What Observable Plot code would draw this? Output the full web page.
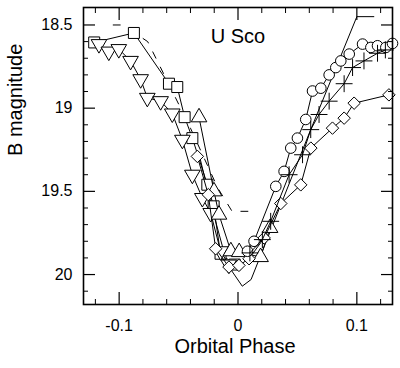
<!DOCTYPE html>
<html><head><meta charset="utf-8">
<script src="https://cdn.jsdelivr.net/npm/d3@7"></script>
<script src="https://cdn.jsdelivr.net/npm/@observablehq/plot@0.6"></script>
<style>body{margin:0;background:#fff}svg{display:block}</style>
</head><body><div id="chart"></div>
<script>
// ---- data (orbital phase, B magnitude) ----
const titleText = "U Sco";
const xLabel = "Orbital Phase";
const yLabel = "B magnitude";
const xMajor = [-0.1, 0, 0.1];
const xMajorLabels = ["-0.1", "0", "0.1"];
const xMinor = [-0.12, -0.08, -0.06, -0.04, -0.02, 0.02, 0.04, 0.06, 0.08, 0.12];
const yMajor = [18.5, 19, 19.5, 20];
const yMajorLabels = ["18.5", "19", "19.5", "20"];
const yMinor = [18.6, 18.7, 18.8, 18.9, 19.1, 19.2, 19.3, 19.4, 19.6, 19.7, 19.8, 19.9, 20.1];

const squarePhase = [-0.121, -0.0876, -0.0581, -0.0511, -0.0449, -0.0384, -0.0258, -0.0205, -0.0147, -0.0028];
const squareMag   = [18.605, 18.548, 18.853, 18.873, 19.054, 19.18, 19.46, 19.59, 19.875, 19.94];

const triDownPhase = [-0.117, -0.1087, -0.1003, -0.0904, -0.0819, -0.0763, -0.0651, -0.0553, -0.0468, -0.0384, -0.03, -0.023, -0.0146, -0.0078];
const triDownMag   = [18.615, 18.66, 18.645, 18.716, 18.826, 18.938, 18.958, 19.032, 19.19, 19.40, 19.54, 19.63, 19.86, 19.94];

const triUpPhase = [-0.0328, -0.0202, -0.016, -0.006, 0.001, 0.019, 0.027];
const triUpMag   = [19.055, 19.50, 19.64, 19.86, 19.865, 19.895, 19.72];

const diamondPhase = [-0.0342, -0.025, -0.0188, -0.0076, 0.0008, 0.0093, 0.022, 0.036, 0.0528, 0.0613, 0.0795, 0.0893, 0.0977, 0.127];
const diamondMag   = [19.29, 19.52, 19.845, 19.955, 19.945, 19.905, 19.78, 19.573, 19.461, 19.24, 19.12, 19.06, 18.97, 18.92];

const circlePhase = [0.008, 0.0135, 0.0318, 0.0388, 0.0444, 0.05, 0.057, 0.0627, 0.0697, 0.0767, 0.0823, 0.0865, 0.0936, 0.1048, 0.1118, 0.1174, 0.1244, 0.130];
const circleMag   = [19.86, 19.80, 19.47, 19.38, 19.24, 19.18, 19.068, 18.897, 18.88, 18.80, 18.756, 18.716, 18.675, 18.615, 18.635, 18.625, 18.635, 18.611];

const crossPhase = [0.01, 0.0205, 0.0275, 0.043, 0.0543, 0.0612, 0.0682, 0.0767, 0.0893, 0.0964, 0.106, 0.1174, 0.124];
const crossMag   = [19.87, 19.79, 19.68, 19.40, 19.28, 19.129, 19.038, 18.958, 18.853, 18.756, 18.716, 18.67, 18.65];

const modelPhase = [-0.032, -0.02, -0.0089, 0.0036, 0.011, 0.06, 0.1, 0.1143];
const modelMag   = [19.30, 19.65, 19.94, 20.07, 20.03, 19.15, 18.45, 18.45];

const dashPhase = [-0.105, -0.097, -0.076, -0.06, -0.04, -0.017, -0.005, 0.011];
const dashMag   = [18.50, 18.50, 18.60, 18.83, 19.12, 19.48, 19.62, 19.62];

// ---- build tables ----
const zip = (p, m) => p.map((x, i) => ({phase: x, mag: m[i]}));
const squares = zip(squarePhase, squareMag);
const triDown = zip(triDownPhase, triDownMag);
const triUp = zip(triUpPhase, triUpMag);
const diamonds = zip(diamondPhase, diamondMag);
const circles = zip(circlePhase, circleMag);
const crosses = zip(crossPhase, crossMag);
const model = zip(modelPhase, modelMag);
const dashed = zip(dashPhase, dashMag);

const sqrt3 = Math.sqrt(3);
const triangleDown = {
  draw(ctx, size) {
    const y = -Math.sqrt(size / (sqrt3 * 3));
    ctx.moveTo(0, -y * 2);
    ctx.lineTo(-sqrt3 * y, y);
    ctx.lineTo(sqrt3 * y, y);
    ctx.closePath();
  }
};

const series = (data, symbol, r) => [
  Plot.line(data, {x: "phase", y: "mag", stroke: "black", strokeWidth: 1}),
  Plot.dot(data, {x: "phase", y: "mag", symbol: () => symbol, r, fill: "white", stroke: "black", strokeWidth: 1})
];

const blank = () => "";
const tickOpts = {tickFormat: blank, label: null};

const chart = Plot.plot({
  width: 400,
  height: 368,
  marginLeft: 83,
  marginRight: 8,
  marginTop: 7,
  marginBottom: 64,
  style: {fontFamily: "'Liberation Sans', Arial, sans-serif", color: "black", background: "white"},
  x: {domain: [-0.13, 0.13]},
  y: {domain: [18.395, 20.18], reverse: true},
  symbol: {type: "identity"},
  marks: [
    Plot.line(dashed, {x: "phase", y: "mag", stroke: "black", strokeWidth: 1, strokeDasharray: "7,10"}),
    Plot.line(model, {x: "phase", y: "mag", stroke: "black", strokeWidth: 1}),
    ...series(squares, "square", 6.2),
    ...series(triDown, triangleDown, 5.8),
    ...series(triUp, "triangle", 5.8),
    ...series(diamonds, "diamond2", 5.6),
    ...series(circles, "circle", 5.3),
    ...series(crosses, "plus", 5.5),
    // ticks (inward) on all four sides
    Plot.axisX(xMajor, {anchor: "bottom", tickSize: -12, strokeWidth: 1.2, ...tickOpts}),
    Plot.axisX(xMinor, {anchor: "bottom", tickSize: -5, ...tickOpts}),
    Plot.axisX(xMajor, {anchor: "top", tickSize: -12, strokeWidth: 1.2, ...tickOpts}),
    Plot.axisX(xMinor, {anchor: "top", tickSize: -5, ...tickOpts}),
    Plot.axisY(yMajor, {anchor: "left", tickSize: -12, strokeWidth: 1.2, ...tickOpts}),
    Plot.axisY(yMinor, {anchor: "left", tickSize: -5, ...tickOpts}),
    Plot.axisY(yMajor, {anchor: "right", tickSize: -12, strokeWidth: 1.2, ...tickOpts}),
    Plot.axisY(yMinor, {anchor: "right", tickSize: -5, ...tickOpts}),
    // tick labels
    Plot.axisX(xMajor, {anchor: "bottom", tickSize: 0, tickPadding: 15, fontSize: 16, label: null,
      tickFormat: (d) => xMajorLabels[xMajor.indexOf(d)]}),
    Plot.axisY(yMajor, {anchor: "left", tickSize: 0, tickPadding: 11, fontSize: 16, label: null,
      tickFormat: (d) => yMajorLabels[yMajor.indexOf(d)]}),
    Plot.frame({stroke: "black", strokeWidth: 1.6}),
    // texts
    Plot.text([titleText], {frameAnchor: "top", lineAnchor: "top", dy: 21, fontSize: 20, fill: "black"}),
    Plot.text([xLabel], {frameAnchor: "bottom", lineAnchor: "middle", dy: 42, dx: -3, fontSize: 20, fill: "black"}),
    Plot.text([yLabel], {frameAnchor: "left", lineAnchor: "middle", rotate: -90, dx: -68, fontSize: 20, fill: "black"})
  ]
});
document.getElementById("chart").appendChild(chart);
</script>
</body></html>
